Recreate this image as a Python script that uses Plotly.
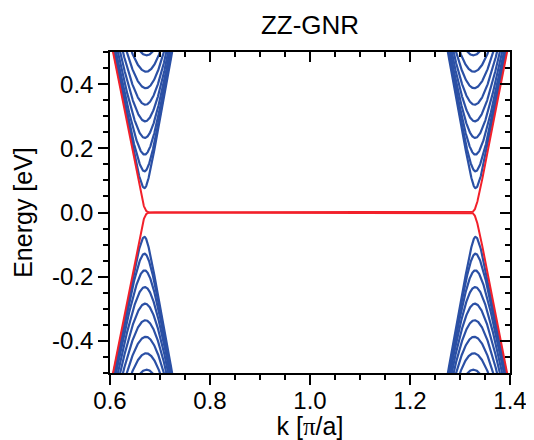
import numpy as np
import plotly.graph_objects as go

# ---- model / data parameters (tight-binding zigzag graphene nanoribbon) ----
hopping_t_eV = 3.1          # nearest-neighbour hopping
n_zigzag_chains = 187       # ribbon width (number of zigzag chains)
k_left = np.concatenate([np.linspace(0.6, 0.76, 321), np.linspace(0.765, 1.0, 48)])  # k in units of pi/a

x_range = [0.6, 1.4]
y_range = [-0.5, 0.5]
x_tick_vals = [0.6, 0.8, 1.0, 1.2, 1.4]
x_tick_text = ["0.6", "0.8", "1.0", "1.2", "1.4"]
y_tick_vals = [-0.4, -0.2, 0.0, 0.2, 0.4]
y_tick_text = ["-0.4", "-0.2", "0.0", "0.2", "0.4"]

title_text = "ZZ-GNR"
x_title = "k [<span style=\"font-family:'Liberation Serif'\">π</span>/a]"
y_title = "Energy [eV]"

# ---- band structure ----
M = 2 * n_zigzag_chains
bands = np.empty((len(k_left), M))
for i, k in enumerate(k_left):
    off = np.empty(M - 1)
    off[0::2] = 2 * hopping_t_eV * np.cos(np.pi * k / 2)
    off[1::2] = hopping_t_eV
    H = np.diag(off, 1) + np.diag(off, -1)
    bands[i] = np.linalg.eigvalsh(H)

k_right = 2.0 - k_left
edge_idx = [n_zigzag_chains - 1, n_zigzag_chains]

bx, by = [], []
rx, ry = [], []
for j in range(M):
    e = bands[:, j]
    if j in edge_idx:
        kk = np.concatenate([k_left, k_right[::-1]])
        ee = np.concatenate([e, e[::-1]])
        rx += list(kk) + [None]
        ry += list(ee) + [None]
    else:
        if np.min(np.abs(e)) > 0.55:
            continue
        sel = k_left < 0.8
        bx += list(k_left[sel]) + [None] + list(k_right[sel]) + [None]
        by += list(e[sel]) + [None] + list(e[sel]) + [None]

blue = "#2b50a5"
red = "#f2202a"
font_family = "Liberation Sans, Arial, sans-serif"

fig = go.Figure()
fig.add_trace(go.Scatter(x=bx, y=by, mode="lines", line=dict(color=blue, width=2.2),
                         showlegend=False, hoverinfo="skip"))
fig.add_trace(go.Scatter(x=rx, y=ry, mode="lines", line=dict(color=red, width=2),
                         showlegend=False, hoverinfo="skip"))
# invisible helpers so the mirrored top/right axes are drawn
fig.add_trace(go.Scatter(x=[1.0], y=[0.0], xaxis="x2", yaxis="y", mode="markers",
                         marker=dict(opacity=0), showlegend=False, hoverinfo="skip"))
fig.add_trace(go.Scatter(x=[1.0], y=[0.0], xaxis="x", yaxis="y2", mode="markers",
                         marker=dict(opacity=0), showlegend=False, hoverinfo="skip"))

axis_common = dict(showline=True, linecolor="black", linewidth=1.5, showgrid=False,
                   zeroline=False, tickwidth=1.5, tickcolor="black", ticklen=10,
                   automargin=False)

# page body has an 8 px margin, so the figure is sized/offset to land on the reference pixels
fig.update_layout(
    width=526, height=432,
    margin=dict(l=102, r=24, t=44, b=67),
    paper_bgcolor="white", plot_bgcolor="white",
    font=dict(family=font_family, color="black", size=24),
    title=dict(text=title_text, x=(102 + 200) / 526, xanchor="center",
               y=1 - 17 / 432, yanchor="middle", yref="container",
               font=dict(size=26, family=font_family, color="black")),
    xaxis=dict(range=x_range, tickvals=x_tick_vals, ticktext=x_tick_text, ticks="outside",
               mirror=True, ticklabelstandoff=-5,
               minor=dict(dtick=0.05, ticks="outside", ticklen=5, tickwidth=1.5, tickcolor="black"),
               title=dict(text=x_title, font=dict(size=25), standoff=4),
               tickfont=dict(size=24), **axis_common),
    yaxis=dict(range=y_range, tickvals=y_tick_vals, ticktext=y_tick_text, ticks="outside",
               mirror=True,
               minor=dict(dtick=0.05, ticks="outside", ticklen=5, tickwidth=1.5, tickcolor="black"),
               title=dict(text=y_title, font=dict(size=25), standoff=12),
               tickfont=dict(size=24), **axis_common),
    xaxis2=dict(range=x_range, overlaying="x", side="top", anchor="y", tickvals=x_tick_vals,
                showticklabels=False, ticks="inside",
                minor=dict(dtick=0.05, ticks="inside", ticklen=5, tickwidth=1.5, tickcolor="black"),
                **axis_common),
    yaxis2=dict(range=y_range, overlaying="y", side="right", anchor="x", tickvals=y_tick_vals,
                showticklabels=False, ticks="inside",
                minor=dict(dtick=0.05, ticks="inside", ticklen=5, tickwidth=1.5, tickcolor="black"),
                **axis_common),
)

fig.write_html("out.html")
